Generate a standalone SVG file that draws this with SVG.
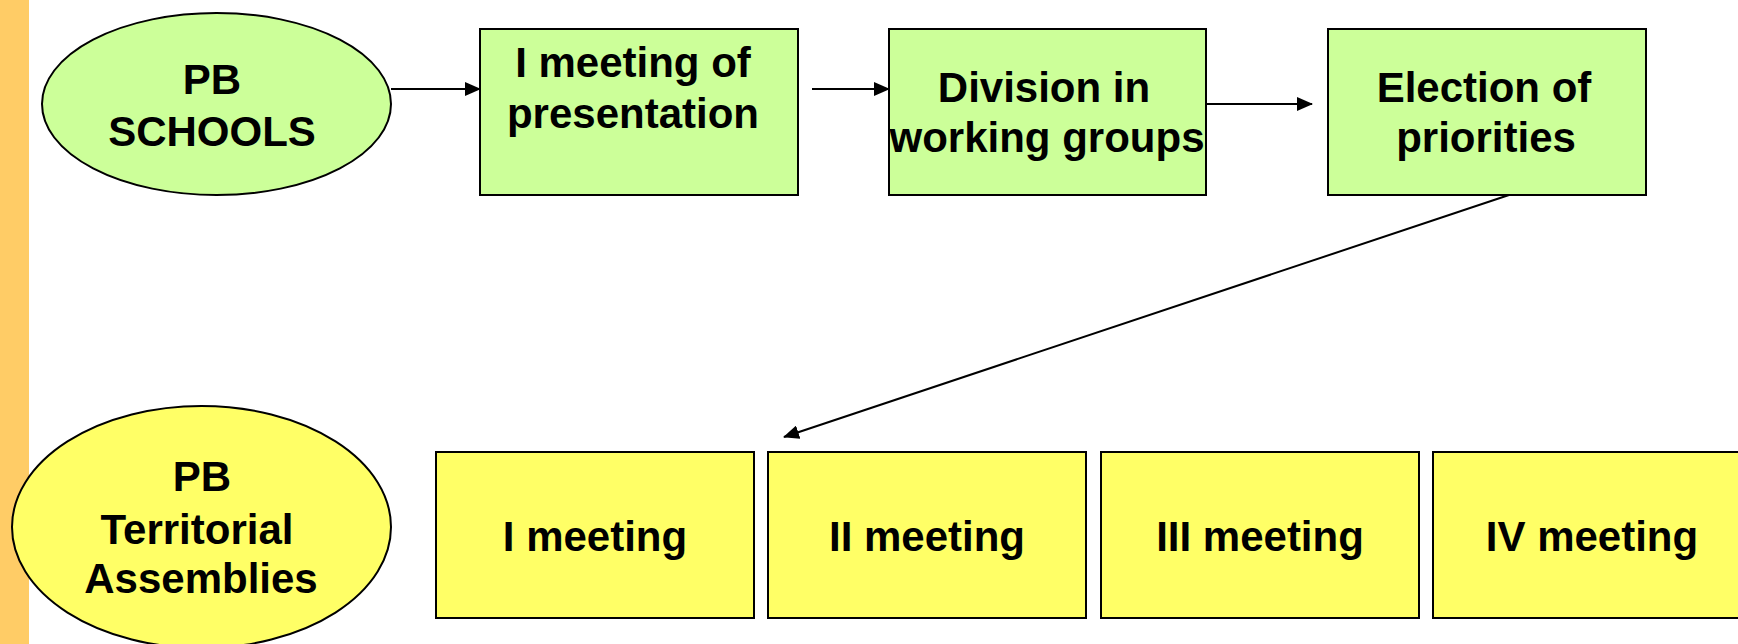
<svg xmlns="http://www.w3.org/2000/svg" width="1738" height="644" viewBox="0 0 1738 644">
  <style>
    .lbl { font-family: "Liberation Sans", Arial, sans-serif; font-weight: bold; font-size: 42px; fill: #000; text-anchor: middle; }
    .green { fill: #CCFF99; stroke: #000; stroke-width: 2; }
    .yellow { fill: #FFFF66; stroke: #000; stroke-width: 2; }
    .edge { fill: none; stroke: #000; stroke-width: 2; }
  </style>
  <defs>
    <marker id="arrow" markerUnits="userSpaceOnUse" markerWidth="16" markerHeight="14" refX="15" refY="7" orient="auto">
      <path d="M0,0 L16,7 L0,14 Z" fill="#000"/>
    </marker>
  </defs>

  <rect x="0" y="0" width="1738" height="644" fill="#fff"/>
  <!-- side band -->
  <rect x="0" y="0" width="29" height="644" fill="#FFCC66"/>

  <!-- upper row: schools path -->
  <g id="pb-schools">
    <ellipse class="green" cx="216.5" cy="104" rx="174.5" ry="91"/>
    <text class="lbl" x="212" y="94">PB</text>
    <text class="lbl" x="212" y="146">SCHOOLS</text>
  </g>
  <g id="meeting-presentation">
    <rect class="green" x="480" y="29" width="318" height="166"/>
    <text class="lbl" x="633" y="77">I meeting of</text>
    <text class="lbl" x="633" y="128">presentation</text>
  </g>
  <g id="division-groups">
    <rect class="green" x="889" y="29" width="317" height="166"/>
    <text class="lbl" x="1044" y="102">Division in</text>
    <text class="lbl" x="1047" y="152">working groups</text>
  </g>
  <g id="election-priorities">
    <rect class="green" x="1328" y="29" width="318" height="166"/>
    <text class="lbl" x="1484" y="102">Election of</text>
    <text class="lbl" x="1486" y="152">priorities</text>
  </g>

  <!-- lower row: territorial assemblies -->
  <g id="pb-territorial">
    <ellipse class="yellow" cx="201.5" cy="527" rx="189.5" ry="121"/>
    <text class="lbl" x="202" y="491">PB</text>
    <text class="lbl" x="197" y="544">Territorial</text>
    <text class="lbl" x="201" y="593">Assemblies</text>
  </g>
  <g id="meeting-1">
    <rect class="yellow" x="436" y="452" width="318" height="166"/>
    <text class="lbl" x="595" y="551">I meeting</text>
  </g>
  <g id="meeting-2">
    <rect class="yellow" x="768" y="452" width="318" height="166"/>
    <text class="lbl" x="927" y="551">II meeting</text>
  </g>
  <g id="meeting-3">
    <rect class="yellow" x="1101" y="452" width="318" height="166"/>
    <text class="lbl" x="1260" y="551">III meeting</text>
  </g>
  <g id="meeting-4">
    <rect class="yellow" x="1433" y="452" width="318" height="166"/>
    <text class="lbl" x="1592" y="551">IV meeting</text>
  </g>

  <!-- connectors -->
  <g id="connectors">
    <line class="edge" x1="391" y1="89" x2="480" y2="89" marker-end="url(#arrow)"/>
    <line class="edge" x1="812" y1="89" x2="889" y2="89" marker-end="url(#arrow)"/>
    <line class="edge" x1="1206" y1="104" x2="1312" y2="104" marker-end="url(#arrow)"/>
    <line class="edge" x1="1509" y1="195" x2="784" y2="437" marker-end="url(#arrow)"/>
  </g>
</svg>
